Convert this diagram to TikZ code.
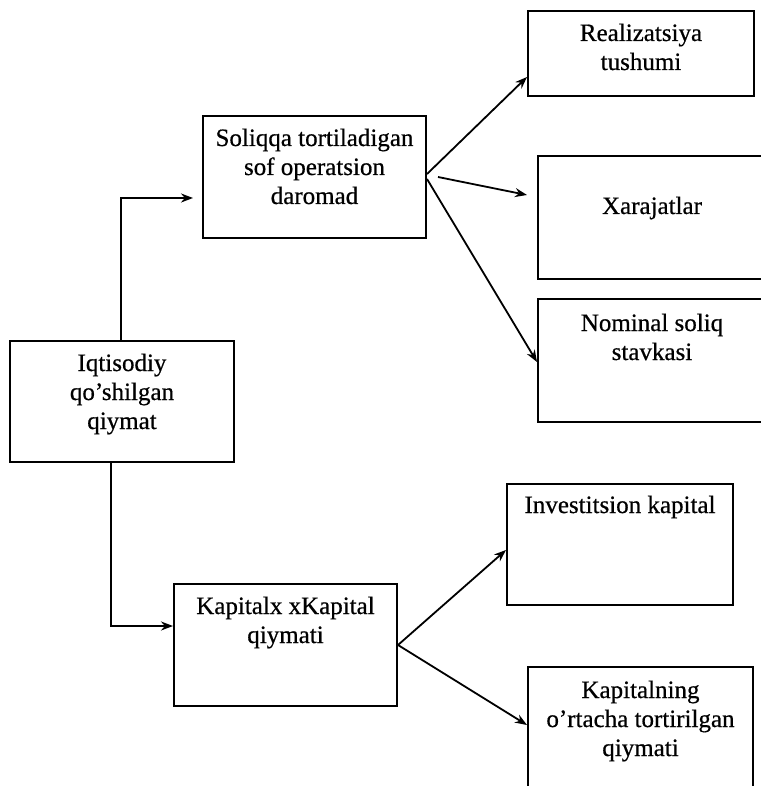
\documentclass[tikz,border=0pt]{standalone}
\usepackage{fontspec}
\setmainfont{Liberation Serif}[FakeBold=0.6]
\usetikzlibrary{calc,arrows.meta}
\newcommand{\bxc}[4]{\parbox[c][#2][t]{#1}{\centering\rule{0pt}{#3}#4\par}}
\tikzset{
  box/.style={draw, line width=2pt, inner sep=0pt, anchor=north west,
    font=\fontsize{25}{29}\selectfont},
  arr/.style={line width=1.8pt, -{Stealth[length=12pt,width=9pt]}},
}
\begin{document}
\begin{tikzpicture}[x=1pt,y=-1pt]
\useasboundingbox (0,0) rectangle (760,786);
\node[box] (re) at (527,10)  {\bxc{226pt}{85pt}{30pt}{Realizatsiya\\tushumi}};
\node[box] (so) at (202,115) {\bxc{223pt}{122pt}{30pt}{Soliqqa tortiladigan\\sof operatsion\\daromad}};
\node[box] (xa) at (537,155) {\bxc{228pt}{123pt}{58pt}{Xarajatlar}};
\node[box] (no) at (537,298) {\bxc{228pt}{123pt}{32pt}{Nominal soliq\\stavkasi}};
\node[box] (iq) at (9,340)   {\bxc{224pt}{121pt}{30pt}{Iqtisodiy\\qo’shilgan\\qiymat}};
\node[box] (in) at (506,483) {\bxc{226pt}{121pt}{29pt}{Investitsion kapital}};
\node[box] (ka) at (173,583) {\bxc{223pt}{122pt}{30pt}{Kapitalx xKapital\\qiymati}};
\node[box] (kn) at (527,666) {\bxc{225pt}{140pt}{31pt}{Kapitalning\\o’rtacha tortirilgan\\qiymati}};
% elbow connectors
\draw[arr] ($(iq.north west)+(112,0)$) |- ($(so.west)+(-9,21)$);
\draw[arr] ($(iq.south west)+(102,0)$) |- ($(ka.west)+(0,-19)$);
% fan from Soliqqa
\draw[arr] ($(so.east)+(0,-3)$) -- ($(re.south west)+(0,-20)$);
\draw[arr] ($(so.east)+(11,0)$) -- ($(xa.north west)+(-10,40)$);
\draw[arr] ($(so.east)+(0,2)$) -- ($(no.north west)+(0,64)$);
% fan from Kapitalx
\draw[arr] (ka.east) -- ($(in.south west)+(0,-56)$);
\draw[arr] (ka.east) -- ($(kn.north west)+(0,59)$);
\end{tikzpicture}
\end{document}
